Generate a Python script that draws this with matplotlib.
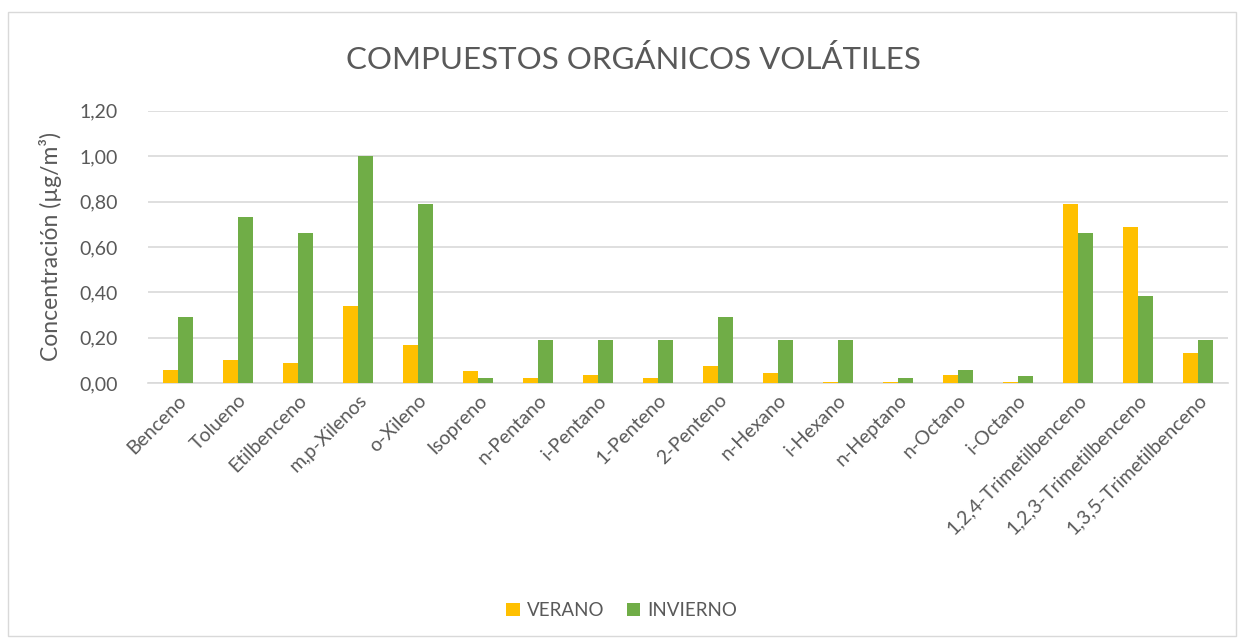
import numpy as np
import matplotlib.pyplot as plt
from matplotlib.patches import Rectangle
from matplotlib.ticker import FuncFormatter

plt.rcParams['font.family'] = ['Lato', 'DejaVu Sans']

compuestos = ["Benceno", "Tolueno", "Etilbenceno", "m,p-Xilenos", "o-Xileno",
              "Isopreno", "n-Pentano", "i-Pentano", "1-Penteno", "2-Penteno",
              "n-Hexano", "i-Hexano", "n-Heptano", "n-Octano", "i-Octano",
              "1,2,4-Trimetilbenceno", "1,2,3-Trimetilbenceno", "1,3,5-Trimetilbenceno"]
verano = [0.06, 0.10, 0.09, 0.34, 0.17, 0.055, 0.025, 0.035, 0.025, 0.075,
          0.045, 0.007, 0.005, 0.036, 0.007, 0.79, 0.69, 0.135]
invierno = [0.29, 0.73, 0.66, 1.00, 0.79, 0.023, 0.19, 0.19, 0.19, 0.29,
            0.19, 0.19, 0.023, 0.057, 0.033, 0.66, 0.385, 0.19]

c_verano = "#FFC000"
c_invierno = "#70AD47"
gris = "#595959"

fig = plt.figure(figsize=(12.44, 6.44), dpi=100)
fig.patches.append(Rectangle((8 / 1244, 8 / 644), 1228 / 1244, 624 / 644,
                             transform=fig.transFigure, fill=False,
                             edgecolor="#d9d9d9", lw=1))
ax = fig.add_axes([0.119, 0.405, 0.868, 0.423])

x = np.arange(len(compuestos))
w = 0.25
ax.bar(x - w / 2, verano, w, color=c_verano, label="VERANO", zorder=3)
ax.bar(x + w / 2, invierno, w, color=c_invierno, label="INVIERNO", zorder=3)

ax.set_xlim(-0.5, len(compuestos) - 0.5)
ax.set_ylim(0, 1.2)
ax.set_yticks(np.arange(0, 1.21, 0.2))
ax.yaxis.set_major_formatter(FuncFormatter(lambda v, p: f"{v:.2f}".replace(".", ",")))
ax.grid(axis="y", color="#d9d9d9", lw=1.2, zorder=0)
for s in ["top", "right", "left"]:
    ax.spines[s].set_visible(False)
ax.spines["bottom"].set_color("#d9d9d9")
ax.spines["bottom"].set_linewidth(1.2)
ax.tick_params(axis="both", length=0, colors=gris, labelsize=14)
ax.tick_params(axis="y", pad=22)
ax.tick_params(axis="x", pad=6)
ax.set_xticks(x)
ax.set_xticklabels(compuestos, rotation=45, ha="right", rotation_mode="anchor")
ax.set_ylabel("Concentración (µg/m³)", fontsize=16.5, color=gris, labelpad=12)

fig.text(0.509, 0.908, "COMPUESTOS ORGÁNICOS VOLÁTILES", ha="center", va="center",
         fontsize=22.5, color=gris)
fig.legend(loc="center", bbox_to_anchor=(0.5, 0.052), ncol=2, frameon=False,
           fontsize=13.5, labelcolor=gris, handlelength=0.7, handleheight=0.7,
           columnspacing=1.2, handletextpad=0.4)

fig.savefig("out.png", dpi=100)
